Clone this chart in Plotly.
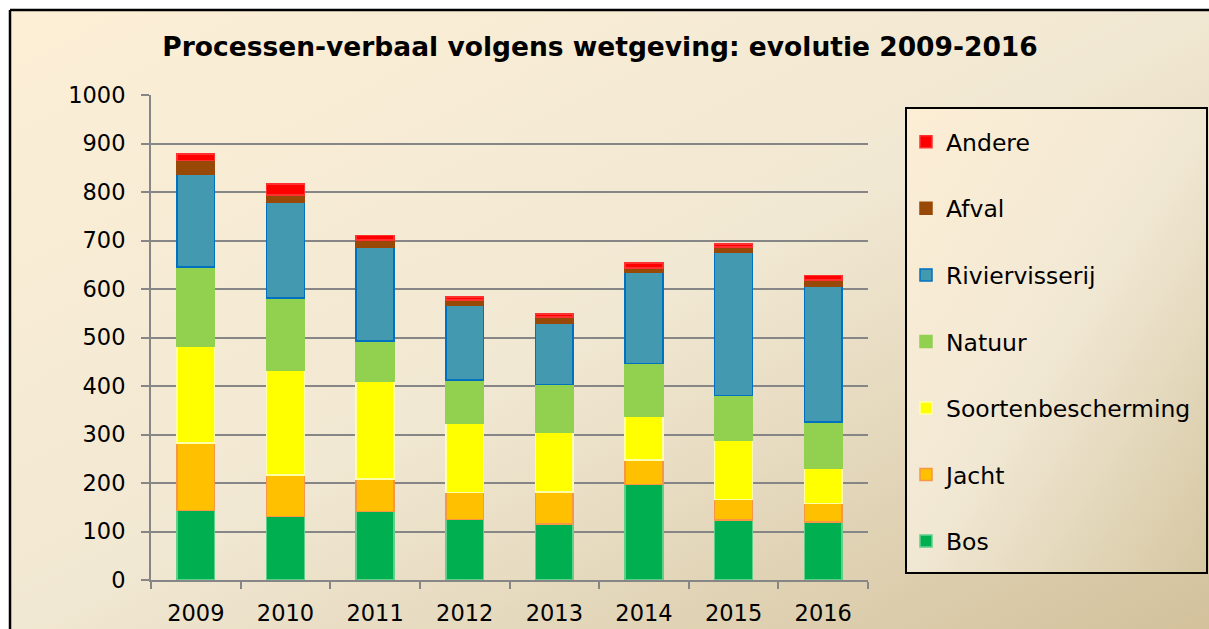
import base64
import plotly.graph_objects as go

years = ["2009", "2010", "2011", "2012", "2013", "2014", "2015", "2016"]
bos = [143, 131, 141, 125, 115, 197, 124, 120]
jacht = [139, 85, 67, 55, 66, 50, 42, 38]
soorten = [201, 217, 201, 144, 123, 91, 122, 73]
natuur = [162, 148, 84, 88, 99, 108, 92, 95]
rivier = [191, 197, 193, 155, 126, 189, 295, 279]
afval = [29, 16, 15, 10, 13, 8, 12, 14]
andere = [13, 22, 9, 7, 6, 11, 6, 9]

series = [
    ("Bos", bos, "#00B050", "#5FD08A"),
    ("Jacht", jacht, "#FFC000", "#F79646"),
    ("Soortenbescherming", soorten, "#FFFF00", "#FFFFA8"),
    ("Natuur", natuur, "#92D050", "#92D050"),
    ("Riviervisserij", rivier, "#4399B0", "#0070C0"),
    ("Afval", afval, "#984807", "#984807"),
    ("Andere", andere, "#FF0000", "#FF3030"),
]

W, H = 1209, 629
L, R, T, B = 151, 868, 95, 580


def px(x):
    return (x - L) / (R - L)


def py(y):
    return (B - y) / (B - T)


def grad_uri(c0, c1, c2):
    svg = (
        "<svg xmlns='http://www.w3.org/2000/svg' width='100' height='100' "
        "viewBox='0 0 100 100' preserveAspectRatio='none'><defs>"
        "<linearGradient id='g' x1='0' y1='0' x2='1' y2='1'>"
        f"<stop offset='0' stop-color='{c0}'/>"
        f"<stop offset='0.5' stop-color='{c1}'/>"
        f"<stop offset='1' stop-color='{c2}'/>"
        "</linearGradient></defs><rect width='100' height='100' fill='url(#g)'/></svg>"
    )
    return "data:image/svg+xml;base64," + base64.b64encode(svg.encode()).decode()


fig = go.Figure()
n = len(series)
for i, (name, vals, fill, line) in enumerate(series):
    fig.add_trace(go.Bar(
        x=years, y=vals, name=name, legendgroup=str(i), legendrank=n - i,
        marker=dict(color=fill, line=dict(color=line, width=1.5)),
        width=0.42,
    ))

font = "DejaVu Sans, Verdana, sans-serif"

fig.update_layout(
    width=W, height=H,
    barmode="stack",
    paper_bgcolor="white",
    plot_bgcolor="rgba(0,0,0,0)",
    margin=dict(l=L, r=W - R, t=T, b=H - B, autoexpand=False),
    title=dict(
        text="<b>Processen-verbaal volgens wetgeving: evolutie 2009-2016</b>",
        x=600 / W, xanchor="center", y=1 - 47 / H, yanchor="middle",
        font=dict(family=font, size=26.5, color="black"),
    ),
    font=dict(family=font, color="black"),
    showlegend=True,
    legend=dict(
        x=px(906), y=py(120), xanchor="left", yanchor="top",
        traceorder="grouped", tracegroupgap=33,
        bgcolor="rgba(0,0,0,0)", borderwidth=0,
        font=dict(family=font, size=23.5, color="black"),
    ),
    xaxis=dict(
        type="category", showgrid=False, tickson="boundaries",
        ticks="outside", ticklen=7, tickwidth=2, tickcolor="#868686",
        showline=True, linecolor="#868686", linewidth=2,
        tickfont=dict(family=font, size=22.5, color="black"),
        ticklabelstandoff=12,
    ),
    yaxis=dict(
        range=[0, 1000], dtick=100, showgrid=True, gridcolor="#868686", gridwidth=2,
        ticks="outside", ticklen=8, tickwidth=2, tickcolor="#868686",
        showline=True, linecolor="#868686", linewidth=2, zeroline=False,
        tickfont=dict(family=font, size=22.5, color="black"),
        ticklabelstandoff=11,
    ),
    images=[
        dict(source=grad_uri("#FDEFD6", "#F1E8D3", "#D2C19B"), xref="paper", yref="paper",
             x=px(10), y=py(10), sizex=px(W + 2) - px(10), sizey=py(10) - py(H + 2),
             xanchor="left", yanchor="top", sizing="stretch", layer="below"),
        dict(source=grad_uri("#FDEED5", "#F1E8D4", "#D6C7A2"), xref="paper", yref="paper",
             x=px(906), y=py(108), sizex=px(1207) - px(906), sizey=py(108) - py(573),
             xanchor="left", yanchor="top", sizing="stretch", layer="below"),
    ],
    shapes=[
        dict(type="line", xref="paper", yref="paper", x0=px(10), x1=px(W + 5), y0=py(10), y1=py(10),
             line=dict(color="black", width=2.5)),
        dict(type="line", xref="paper", yref="paper", x0=px(10), x1=px(10), y0=py(10), y1=py(H + 5),
             line=dict(color="black", width=2.5)),
        dict(type="rect", xref="paper", yref="paper", x0=px(906), x1=px(1207), y0=py(108), y1=py(573),
             line=dict(color="black", width=2), layer="above"),
    ],
)

fig.write_html(
    "out.html",
    config={"displayModeBar": False},
    post_script="document.body.style.margin='0';document.body.style.overflow='hidden';",
)
